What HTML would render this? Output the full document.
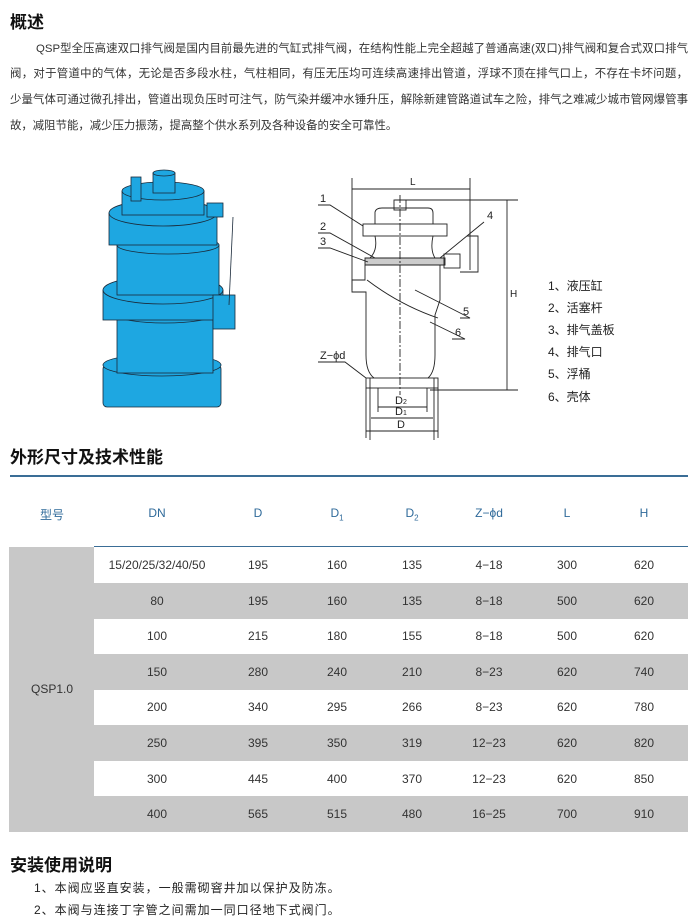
<!DOCTYPE html>
<html><head><meta charset="utf-8"><style>
body{margin:0;background:#fff;width:700px;height:924px;position:relative;overflow:hidden;font-family:"Liberation Sans","Noto Sans CJK SC",sans-serif;color:#222}
.a{position:absolute;white-space:nowrap}
h2{position:absolute;margin:0;font-size:17px;font-weight:bold;color:#111}
.l{position:absolute;font-size:11.4px;color:#333;white-space:nowrap;text-align:justify;text-align-last:justify;height:16px;line-height:16px}
.row{position:absolute;left:94px;width:594px;height:36px}
.g{background:#c8c8c8}
.c{position:absolute;font-size:12px;color:#333;transform:translateX(-50%);white-space:nowrap}
.h{position:absolute;font-size:12px;color:#2f6a9a;transform:translateX(-50%);top:506px}
.leg{position:absolute;left:548px;font-size:12px;color:#222}
</style></head><body>
<h2 style="left:10px;top:8px">概述</h2>
<div class="l" style="left:36px;width:652px;top:41px">QSP型全压高速双口排气阀是国内目前最先进的气缸式排气阀，在结构性能上完全超越了普通高速(双口)排气阀和复合式双口排气</div>
<div class="l" style="left:10px;width:678px;top:66px">阀，对于管道中的气体，无论是否多段水柱，气柱相同，有压无压均可连续高速排出管道，浮球不顶在排气口上，不存在卡坏问题，</div>
<div class="l" style="left:10px;width:678px;top:92px">少量气体可通过微孔排出，管道出现负压时可注气，防气染并缓冲水锤升压，解除新建管路道试车之险，排气之难减少城市管网爆管事</div>
<div class="l" style="left:10px;top:118px;text-align-last:auto">故，减阻节能，减少压力振荡，提高整个供水系列及各种设备的安全可靠性。</div>

<svg class="a" style="left:95px;top:165px" width="160" height="250" viewBox="0 0 160 250">
<g fill="#1ea7e1" stroke="#1a2a3a" stroke-width="0.8">
<rect x="8" y="200" width="118" height="42" rx="4"/>
<ellipse cx="67" cy="200" rx="59" ry="11"/>
<rect x="22" y="150" width="96" height="58"/>
<ellipse cx="70" cy="150" rx="48" ry="8"/>
<rect x="8" y="125" width="120" height="30"/>
<ellipse cx="68" cy="125" rx="60" ry="14"/>
<rect x="22" y="80" width="102" height="50"/>
<ellipse cx="73" cy="80" rx="51" ry="9"/>
<rect x="118" y="130" width="22" height="34"/>
<rect x="14" y="48" width="108" height="32"/>
<ellipse cx="68" cy="48" rx="54" ry="13"/>
<rect x="27" y="26" width="82" height="24"/>
<ellipse cx="68" cy="26" rx="41" ry="9"/>
<rect x="58" y="8" width="22" height="20"/>
<ellipse cx="69" cy="8" rx="11" ry="3"/>
<rect x="36" y="12" width="10" height="24"/>
<rect x="112" y="38" width="16" height="14"/>
<line x1="138" y1="52" x2="134" y2="140"/>
</g></svg>

<svg class="a" style="left:300px;top:160px" width="240" height="285" viewBox="300 160 240 285" fill="none" stroke="#222" stroke-width="0.9" font-family="Liberation Sans" font-size="10">
<line x1="352" y1="178" x2="352" y2="290"/><line x1="470" y1="178" x2="470" y2="270"/>
<line x1="352" y1="189" x2="470" y2="189"/><text x="410" y="185" fill="#222" stroke="none">L</text>
<line x1="395" y1="200" x2="518" y2="200"/><line x1="430" y1="390" x2="518" y2="390"/>
<line x1="507" y1="200" x2="507" y2="390"/><text x="510" y="297" fill="#222" stroke="none">H</text>
<path d="M375 224 V212 Q376 208 382 208 H428 Q433 208 433 213 V224"/>
<rect x="363" y="224" width="84" height="12"/>
<rect x="394" y="200" width="12" height="10"/>
<path d="M375 236 Q378 250 370 258 M433 236 Q430 250 435 258"/>
<path d="M365 258 H445 V265 H365 Z" fill="#ccc"/>
<path d="M365 265 V280 H352 V292 H366 V355 Q366 372 374 378 M440 265 V300 L435 315 V355 Q435 372 428 378"/>
<path d="M367 280 Q400 305 438 318"/>
<path d="M467 236 H478 V272 H460"/>
<rect x="444" y="254" width="16" height="14"/>
<rect x="366" y="378" width="72" height="10"/>
<line x1="370" y1="378" x2="370" y2="440"/><line x1="434" y1="378" x2="434" y2="440"/>
<line x1="378" y1="388" x2="378" y2="412"/><line x1="427" y1="388" x2="427" y2="412"/>
<line x1="400" y1="195" x2="400" y2="395" stroke-dasharray="8 2 2 2"/>
<line x1="378" y1="407" x2="427" y2="407"/><line x1="371" y1="418" x2="433" y2="418"/><line x1="366" y1="431" x2="438" y2="431"/>
<line x1="366" y1="388" x2="366" y2="438"/><line x1="438" y1="388" x2="438" y2="438"/>
<g fill="#222" stroke="none" font-size="11"><text x="395" y="404">D<tspan font-size="7">2</tspan></text><text x="395" y="415">D<tspan font-size="7">1</tspan></text><text x="397" y="428">D</text>
<text x="320" y="202">1</text><text x="320" y="230">2</text><text x="320" y="245">3</text><text x="487" y="219">4</text><text x="463" y="315">5</text><text x="455" y="336">6</text><text x="320" y="359">Z−ϕd</text></g>
<path d="M318 205 H330 L363 226 M318 233 H330 L375 258 M318 248 H330 L368 262 M484 222 L440 258 M460 318 H470 L415 290 M452 339 H465 L430 322 M318 362 H345 L366 378"/>
</svg>
<div class="leg" style="top:277px">1、液压缸</div>
<div class="leg" style="top:299px">2、活塞杆</div>
<div class="leg" style="top:321px">3、排气盖板</div>
<div class="leg" style="top:343px">4、排气口</div>
<div class="leg" style="top:365px">5、浮桶</div>
<div class="leg" style="top:388px">6、壳体</div>

<h2 style="left:10px;top:443px">外形尺寸及技术性能</h2>
<div class="a" style="left:10px;top:475px;width:678px;height:2px;background:#3a6d96"></div>
<div class="h" style="left:52px">型号</div><div class="h" style="left:157px">DN</div><div class="h" style="left:258px">D</div><div class="h" style="left:337px">D<sub style="font-size:8px">1</sub></div><div class="h" style="left:412px">D<sub style="font-size:8px">2</sub></div><div class="h" style="left:489px">Z−ϕd</div><div class="h" style="left:567px">L</div><div class="h" style="left:644px">H</div>
<div class="a" style="left:9px;top:547px;width:85px;height:285px;background:#c8c8c8"></div>
<div class="a" style="left:94px;top:546px;width:594px;height:1px;background:#3a6d96"></div>
<div class="row g" style="top:583px"></div><div class="row g" style="top:654px"></div><div class="row g" style="top:725px"></div><div class="row g" style="top:796px"></div>
<div class="c" style="left:52px;top:682px">QSP1.0</div>
<div id="t"></div>
<script>
var d=[["15/20/25/32/40/50",195,160,135,"4−18",300,620],[80,195,160,135,"8−18",500,620],[100,215,180,155,"8−18",500,620],[150,280,240,210,"8−23",620,740],[200,340,295,266,"8−23",620,780],[250,395,350,319,"12−23",620,820],[300,445,400,370,"12−23",620,850],[400,565,515,480,"16−25",700,910]];
var x=[157,258,337,412,489,567,644],h="";
d.forEach(function(r,i){r.forEach(function(v,j){h+='<div class="c" style="left:'+x[j]+'px;top:'+(558+i*35.6)+'px">'+v+'</div>';});});
document.getElementById('t').innerHTML=h;
</script>
<h2 style="left:10px;top:851px">安装使用说明</h2>
<div class="a" style="left:34px;top:879px;font-size:12px;letter-spacing:1px">1、本阀应竖直安装，一般需砌窨井加以保护及防冻。</div>
<div class="a" style="left:34px;top:901px;font-size:12px;letter-spacing:1px">2、本阀与连接丁字管之间需加一同口径地下式阀门。</div>
</body></html>
